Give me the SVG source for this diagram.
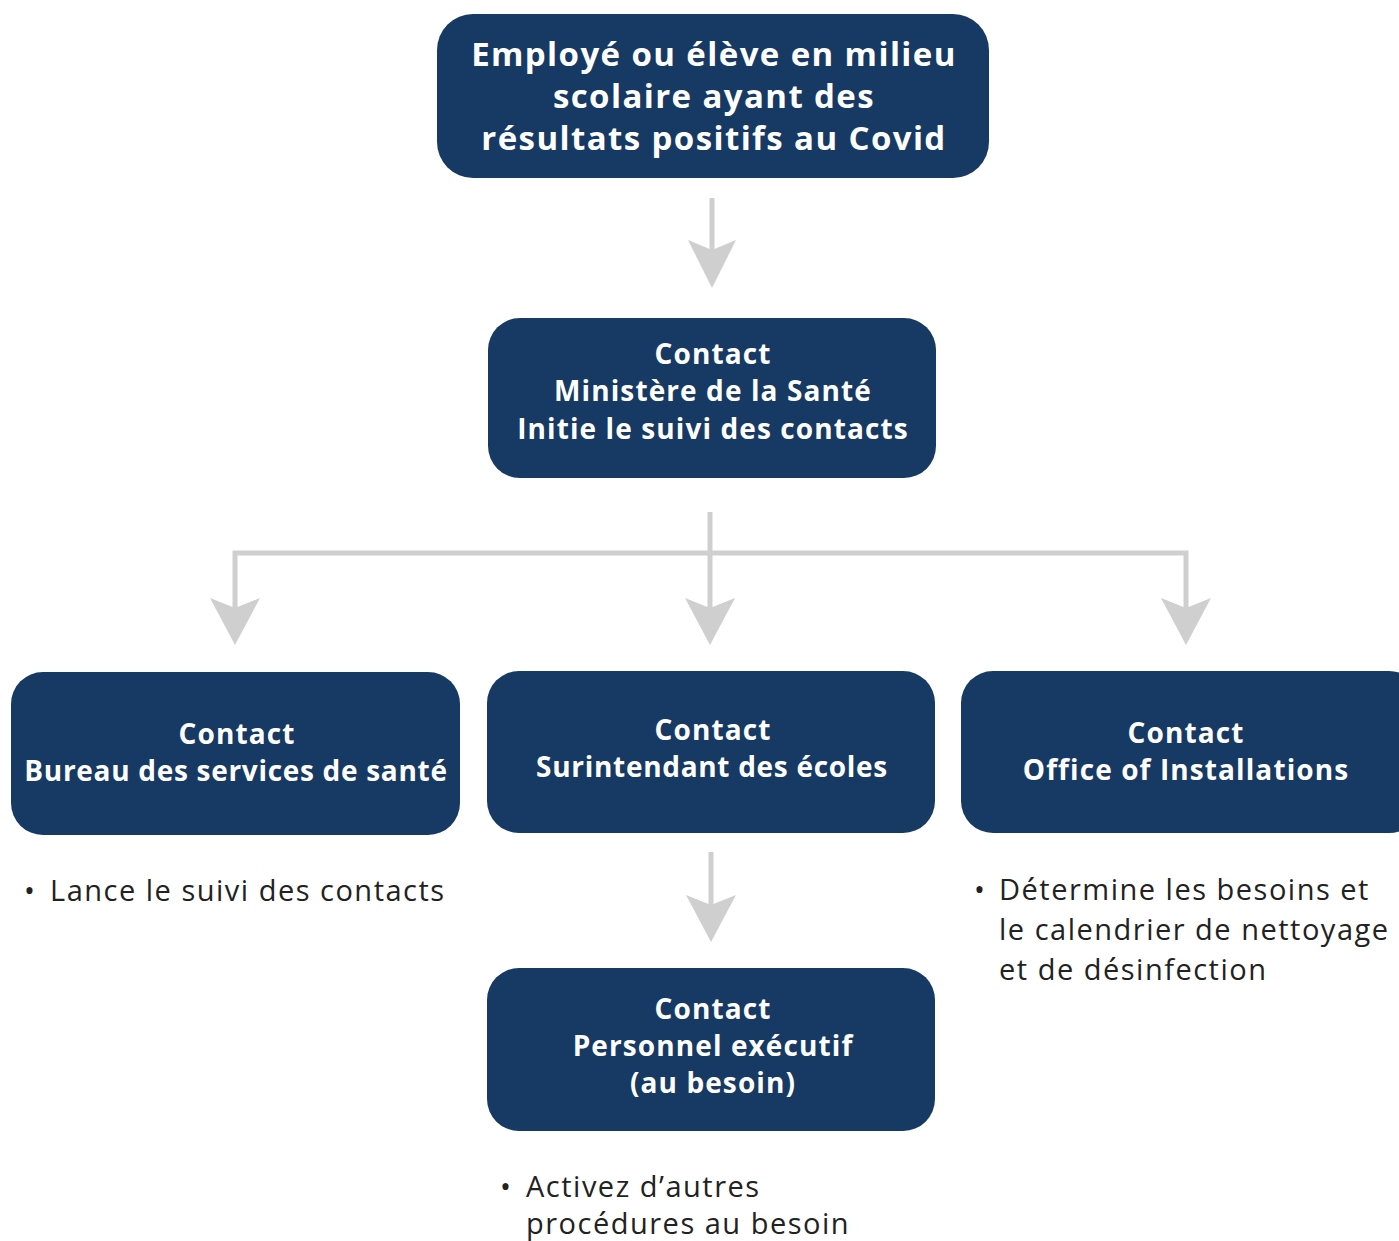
<svg xmlns="http://www.w3.org/2000/svg" width="1399" height="1241" viewBox="0 0 1399 1241">
<defs>
<style>
.box{fill:#173a64}
.t{font-family:"Open Sans","Liberation Sans",sans-serif;font-weight:700;fill:#ffffff;text-anchor:middle}
.big{font-size:33px;letter-spacing:1.4px}
.mid{font-size:28px;letter-spacing:1.1px}
.tight{letter-spacing:0.7px}
.b{font-family:"Open Sans","Liberation Sans",sans-serif;font-size:29px;letter-spacing:1.5px;fill:#222222}
.c{stroke:#cfcfcf;stroke-width:5;fill:none}
.h{fill:#cfcfcf}
</style>
</defs>
<rect width="1399" height="1241" fill="#ffffff"/>
<g id="connectors">
<line class="c" x1="712" y1="198" x2="712" y2="260"/>
<polygon class="h" points="688,240 712,288 736,240 712,250"/>
<line class="c" x1="710" y1="512" x2="710" y2="620"/>
<polyline class="c" points="235,620 235,553 1186,553 1186,620"/>
<polygon class="h" points="210,598 235,645 260,598 235,608"/>
<polygon class="h" points="685,598 710,645 735,598 710,608"/>
<polygon class="h" points="1161,598 1186,645 1211,598 1186,608"/>
<line class="c" x1="711" y1="852" x2="711" y2="915"/>
<polygon class="h" points="686,895 711,942 736,895 711,905"/>
</g>
<g id="n1">
<rect class="box" x="437" y="14" width="552" height="164" rx="36"/>
<text class="t big" x="714" y="66">Employé ou élève en milieu</text>
<text class="t big" x="714" y="108">scolaire ayant des</text>
<text class="t big" x="714" y="150">résultats positifs au Covid</text>
</g>
<g id="n2">
<rect class="box" x="488" y="318" width="448" height="160" rx="32"/>
<text class="t mid" x="713" y="364">Contact</text>
<text class="t mid" x="713" y="401">Ministère de la Santé</text>
<text class="t mid" x="713" y="439">Initie le suivi des contacts</text>
</g>
<g id="n3">
<rect class="box" x="11" y="672" width="449" height="163" rx="32"/>
<text class="t mid" x="237" y="744">Contact</text>
<text class="t mid tight" x="236" y="781">Bureau des services de santé</text>
</g>
<g id="n4">
<rect class="box" x="487" y="671" width="448" height="162" rx="32"/>
<text class="t mid" x="713" y="740">Contact</text>
<text class="t mid tight" x="712" y="777">Surintendant des écoles</text>
</g>
<g id="n5">
<rect class="box" x="961" y="671" width="460" height="162" rx="32"/>
<text class="t mid" x="1186" y="743">Contact</text>
<text class="t mid" x="1186" y="780">Office of Installations</text>
</g>
<g id="n6">
<rect class="box" x="487" y="968" width="448" height="163" rx="32"/>
<text class="t mid" x="713" y="1019">Contact</text>
<text class="t mid" x="713" y="1056">Personnel exécutif</text>
<text class="t mid" x="713" y="1093">(au besoin)</text>
</g>
<g id="notes">
<text class="b" x="24" y="901">•<tspan x="50">Lance le suivi des contacts</tspan></text>
<text class="b" x="974" y="900">•<tspan x="999">Détermine les besoins et</tspan></text>
<text class="b" x="999" y="940">le calendrier de nettoyage</text>
<text class="b" x="999" y="980">et de désinfection</text>
<text class="b" x="500" y="1197">•<tspan x="526">Activez d’autres</tspan></text>
<text class="b" x="526" y="1234">procédures au besoin</text>
</g>
</svg>
